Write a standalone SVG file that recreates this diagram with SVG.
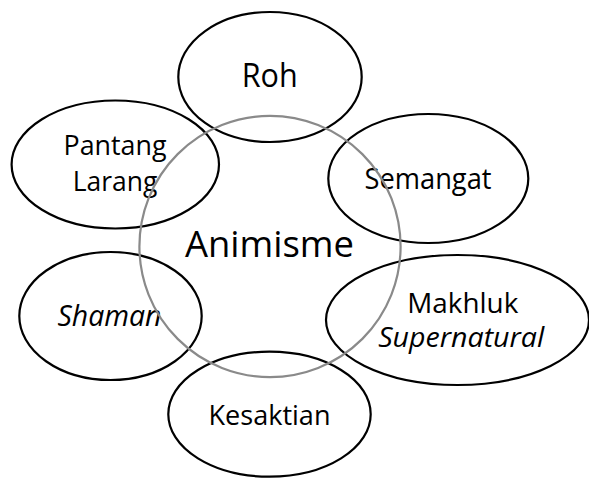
<svg xmlns="http://www.w3.org/2000/svg" width="589" height="478" viewBox="0 0 589 478">
<style>
.e{fill:none;stroke:#000;stroke-width:2.2}
.c{fill:none;stroke:#8a8a8a;stroke-width:2.2}
text{font-family:"Open Sans","Liberation Sans",sans-serif;fill:#000;text-anchor:middle}
.i{font-style:italic}
</style>
<rect width="589" height="478" fill="#fff"/>
<g id="connectors"></g>
<g id="roh">
<ellipse class="e" cx="270" cy="77" rx="91.7" ry="65"/>
<text x="269.7" y="87.3" font-size="33.6" textLength="56" lengthAdjust="spacingAndGlyphs">Roh</text>
</g>
<g id="pantang-larang">
<ellipse class="e" cx="115.3" cy="164.5" rx="103.7" ry="64"/>
<text x="115" y="155" font-size="26.6" textLength="103" lengthAdjust="spacingAndGlyphs">Pantang</text>
<text x="115" y="190.7" font-size="26.6" textLength="84.6" lengthAdjust="spacingAndGlyphs">Larang</text>
</g>
<g id="semangat">
<ellipse class="e" cx="428.3" cy="178.5" rx="100" ry="64.5"/>
<text x="428" y="189.3" font-size="29.4" textLength="127" lengthAdjust="spacingAndGlyphs">Semangat</text>
</g>
<g id="shaman">
<ellipse class="e" cx="110.5" cy="316" rx="91.2" ry="64"/>
<text class="i" x="109.5" y="325.7" font-size="30" textLength="104" lengthAdjust="spacingAndGlyphs">Shaman</text>
</g>
<g id="makhluk-supernatural">
<ellipse class="e" cx="457.5" cy="320" rx="131.5" ry="65"/>
<text x="462.8" y="312.7" font-size="27.2" textLength="111" lengthAdjust="spacingAndGlyphs">Makhluk</text>
<text class="i" x="461.2" y="347.3" font-size="27.2" textLength="166" lengthAdjust="spacingAndGlyphs">Supernatural</text>
</g>
<g id="kesaktian">
<ellipse class="e" cx="269.5" cy="414.2" rx="101.2" ry="62.5"/>
<text x="269.5" y="425" font-size="28" textLength="122" lengthAdjust="spacingAndGlyphs">Kesaktian</text>
</g>
<g id="animisme">
<circle class="c" cx="270" cy="246.5" r="130.6"/>
<text x="269.5" y="257.3" font-size="36" textLength="169" lengthAdjust="spacingAndGlyphs">Animisme</text>
</g>
</svg>
